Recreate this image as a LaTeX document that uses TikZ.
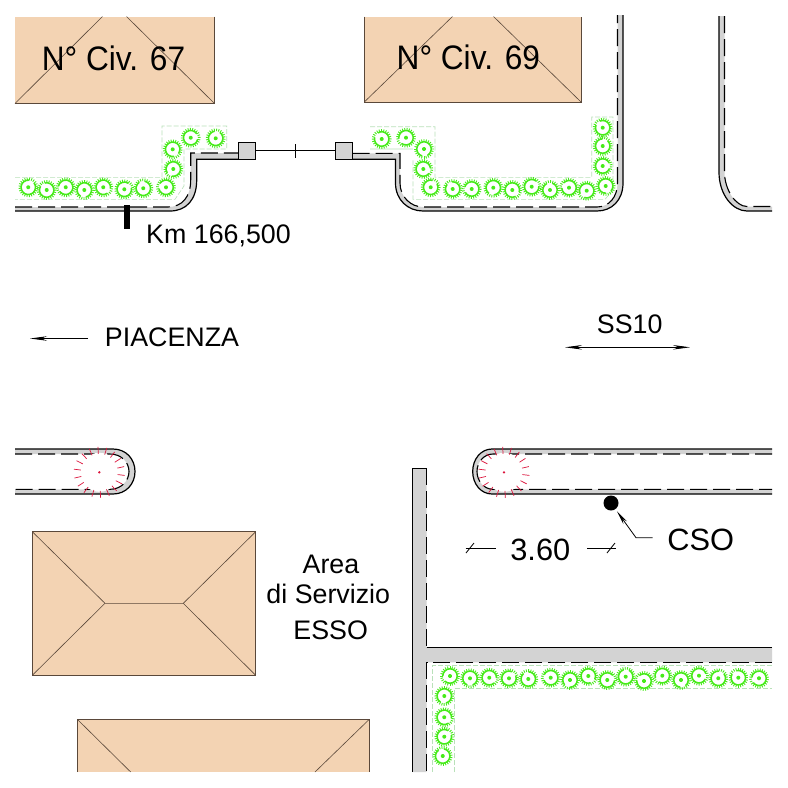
\documentclass[tikz,border=0pt]{standalone}
\usepackage{fontspec}
\setmainfont{Liberation Sans}
\usetikzlibrary{arrows.meta}
\definecolor{roofc}{RGB}{243,211,179}
\definecolor{roofl}{RGB}{90,72,58}
\definecolor{kerbc}{RGB}{211,211,211}
\definecolor{shrubc}{RGB}{70,235,25}
\definecolor{hedgec}{RGB}{185,225,185}
\definecolor{redc}{RGB}{220,20,60}
\tikzset{
  roof/.style={fill=roofc,draw=roofl,line width=0.9pt},
  roofedge/.style={draw=roofl,line width=0.9pt},
  ridge/.style={draw=roofl,line width=0.6pt},
  kerbfill/.style={fill=kerbc,draw=none},
  solidline/.style={draw=black,line width=1.2pt},
  dashline/.style={draw=black,line width=1.1pt,dash pattern=on 17pt off 6pt},
  hedge/.style={draw=hedgec,line width=0.6pt,dash pattern=on 5pt off 2pt},
  shrubline/.style={draw=shrubc,line width=1.5pt},
  shrubspike/.style={draw=shrubc,line width=0.9pt},
  redtick/.style={draw=redc,line width=0.7pt},
  gatebox/.style={draw=black,fill=kerbc,line width=0.9pt,minimum width=17.5pt,minimum height=17pt,inner sep=0pt},
  thinline/.style={draw=black,line width=0.8pt},
  leadtip/.style={-{Stealth[length=14pt,width=4.5pt]}},
  lab/.style={anchor=base,inner sep=0pt,text=black,font=\fontsize{26.8}{26.8}\selectfont},
  labbig/.style={anchor=base,inner sep=0pt,text=black,font=\fontsize{30.8}{30.8}\selectfont},
  labciv/.style={anchor=base,inner sep=0pt,text=black,xscale=0.93,transform shape,font=\fontsize{34}{34}\selectfont},
}
\begin{document}
\begin{tikzpicture}[x=1pt,y=-1pt]
\useasboundingbox (0,0) rectangle (788,788);
\fill[white] (0,0) rectangle (788,788);

% buildings
\fill[roofc] (15,16.5) rectangle (214.5,103.5);
\draw[roofedge] (214.5,16.5) -- (214.5,103.5) -- (15,103.5);
\draw[ridge] (15,103.5) -- (102.5,16.5) (214.5,103.5) -- (126.5,16.5);
\fill[roofc] (364.3,16.5) rectangle (581,102);
\draw[roofedge] (364.3,16.5) -- (364.3,102) -- (581,102) -- (581,16.5);
\draw[ridge] (364.3,102) -- (452.5,16.5) (581,102) -- (493.5,16.5);
\draw[roof] (32.3,531.7) rectangle (255.7,675.3);
\draw[ridge] (32.3,531.7) -- (105,603.3) -- (32.3,675.3) (105,603.3) -- (183.3,603.3) (255.7,531.7) -- (183.3,603.3) -- (255.7,675.3);
\fill[roofc] (77.3,719.3) rectangle (369.3,772);
\draw[roofedge] (77.3,772) -- (77.3,719.3) -- (369.3,719.3) -- (369.3,772);
\draw[ridge] (77.3,719.3) -- (130.7,772) (369.3,719.3) -- (315,772);

% hedges
\draw[hedge] (15,177.3) -- (162,177.3) -- (162,126) -- (226.7,126) -- (226.7,149) -- (184,149) -- (184,186) -- (175,199.3) -- (15,199.3);
\draw[hedge] (370,126.7) -- (435,126.7) -- (435,177.3) -- (591.7,177.3) -- (591.7,117) -- (613,117) -- (613,190) -- (605,199.3) -- (413,199.3) -- (413,160) (413,149) -- (370,149) -- cycle;
\draw[hedge] (772,665.7) -- (432.3,665.7) -- (432.3,772) (454.3,772) -- (454.3,688.3) -- (772,688.3);

% kerb top left
\fill[kerbfill] (15,211) -- (170,211) .. controls (186,211) and (196.7,200) .. (196.7,180) -- (196.7,159.3) -- (238,159.3) -- (238,153) -- (190.7,153) -- (190.7,180) .. controls (190.7,197) and (182,207) .. (168,207) -- (15,207) -- cycle;
\draw[solidline] (15,211) -- (170,211) .. controls (186,211) and (196.7,200) .. (196.7,180) -- (196.7,159.3) -- (238,159.3);
\draw[dashline] (15,207) -- (168,207) .. controls (182,207) and (190.7,197) .. (190.7,180) -- (190.7,153) -- (238,153);

% kerb top middle
\fill[kerbfill] (352.6,159.3) -- (395.5,159.3) -- (395.5,183) .. controls (395.5,200) and (408,211) .. (423,211) -- (597,211) .. controls (612,211) and (623,200) .. (623,183) -- (623,15) -- (617.5,15) -- (617.5,183) .. controls (617.5,197) and (609,207) .. (597,207) -- (423,207) .. controls (411,207) and (400,197) .. (400,183) -- (400,153.3) -- (352.6,153.3) -- cycle;
\draw[solidline] (352.6,159.3) -- (395.5,159.3) -- (395.5,183) .. controls (395.5,200) and (408,211) .. (423,211) -- (597,211) .. controls (612,211) and (623,200) .. (623,183) -- (623,15);
\draw[dashline] (352.6,153.3) -- (400,153.3) -- (400,183) .. controls (400,197) and (411,207) .. (423,207) -- (597,207) .. controls (609,207) and (617.5,197) .. (617.5,183) -- (617.5,15);

% kerb top right
\fill[kerbfill] (719,16) -- (719,172) .. controls (719,195) and (733,211) .. (747,211) -- (772,211) -- (772,206.5) -- (747,206.5) .. controls (736,206.5) and (724.5,190) .. (724.5,172) -- (724.5,16) -- cycle;
\draw[solidline] (719,16) -- (719,172) .. controls (719,195) and (733,211) .. (747,211) -- (772,211);
\draw[dashline] (724.5,16) -- (724.5,172) .. controls (724.5,190) and (736,206.5) .. (747,206.5) -- (772,206.5);

% left island
\fill[kerbfill] (15,449) -- (113,449) .. controls (126,449) and (135,459) .. (135,471.5) .. controls (135,484) and (126,494) .. (113,494) -- (15,494) -- (15,489.3) -- (110,489.3) .. controls (121,489.3) and (129,481) .. (129,471.5) .. controls (129,462) and (121,454) .. (110,454) -- (15,454) -- cycle;
\draw[solidline] (15,449) -- (113,449) .. controls (126,449) and (135,459) .. (135,471.5) .. controls (135,484) and (126,494) .. (113,494) -- (15,494);
\draw[dashline] (15,454) -- (110,454) .. controls (121,454) and (129,462) .. (129,471.5) .. controls (129,481) and (121,489.3) .. (110,489.3) -- (15,489.3);

% right island
\fill[kerbfill] (772,449) -- (492,449) .. controls (481,449) and (472.7,459) .. (472.7,471.5) .. controls (472.7,484) and (481,494) .. (492,494) -- (772,494) -- (772,489.3) -- (493,489.3) .. controls (484,489.3) and (477,481) .. (477,471.5) .. controls (477,462) and (484,454) .. (493,454) -- (772,454) -- cycle;
\draw[solidline] (772,449) -- (492,449) .. controls (481,449) and (472.7,459) .. (472.7,471.5) .. controls (472.7,484) and (481,494) .. (492,494) -- (772,494);
\draw[dashline] (772,454) -- (493,454) .. controls (484,454) and (477,462) .. (477,471.5) .. controls (477,481) and (484,489.3) .. (493,489.3) -- (772,489.3);

% red marks
\foreach \cx/\cy in {99.3/472.3,504/472.3}{
  \fill[white] (\cx,\cy) circle (19.5pt);
  \fill[redc] (\cx,\cy) circle (1.3pt);
  \foreach \a in {0,20,...,340}{
    \draw[redtick] (\cx,\cy) ++(\a+7:18.5) -- ++(\a+7:7);
  }
}

% service-area kerb
\fill[kerbfill] (412.5,468) -- (426.5,468) -- (426.5,647.3) -- (772,647.3) -- (772,662.3) -- (426.5,662.3) -- (426.5,772) -- (412.5,772) -- cycle;
\draw[thinline] (426.5,468) -- (412.5,468);
\draw[solidline] (412.5,468) -- (412.5,772);
\draw[solidline] (426.5,647.3) -- (772,647.3);
\draw[dashline] (426.5,468) -- (426.5,647.3);
\draw[dashline] (772,662.3) -- (426.5,662.3) -- (426.5,772);

% shrubs
\foreach \x/\y [count=\i] in {28.3/187.3,46.7/190,65.7/187.3,84.3/190,103.3/187.3,124.3/189.3,143.3/188.3,166/187.3,173.3/169,172.7/149.3,190.7/137.7,215.7/138.3,
  381.7/139,406/137.7,424/149,423.3/169,430.7/187.3,452.7/189,471.7/189,493.3/187.7,512.3/190,531.7/186.7,550/190,569/187.7,586.7/190.7,605.7/186,602.7/166,602.7/146,602.7/127.7,
  450/676,470/678.3,489.3/677.7,509/678.3,528.3/679,550.7/677.7,570/680,588.3/676,607.3/680,625.7/676.7,644/681,662.3/675.7,681/680,699/675.7,718.3/678.3,738.3/677.7,759/678.3,
  444.3/696,444.3/717.3,444.3/736.7,442.7/756}{
  \begin{scope}[shift={(\x,\y)},rotate=\i*67]
    \draw[shrubline] (0,0) ++(30:7.2) arc[start angle=30,end angle=345,radius=7.2];
    \fill[shrubc] (0,0) circle (2pt);
    \foreach \a in {0,15,...,345}{\draw[shrubspike] (\a:7.2) -- (\a:9.8);}
  \end{scope}
}

% gate
\node[gatebox] (gateL) at (247,150.5) {};
\node[gatebox] (gateR) at (343.8,150.5) {};
\draw[thinline] (gateL) -- (gateR);
\coordinate (gateT) at (295.7,144);
\coordinate (gateB) at (295.7,158);
\draw[thinline] (gateT) -- (gateB);

% km marker
\fill[black] (124,205) rectangle (130,228.5);

% texts
\node[labciv] (civA) at (113.5,70) {N° Civ. 67};
\node[labciv] (civB) at (468.3,69.5) {N° Civ. 69};
\node[lab] (km) at (218.5,243) {Km 166,500};
\node[lab] (pia) at (172,346.7) {PIACENZA};
\node[lab] (ss) at (629.7,333) {SS10};
\node[lab] (areaA) at (331,573) {Area};
\node[lab] (areaB) at (328.3,603.3) {di Servizio};
\node[lab] (areaC) at (330.7,639) {ESSO};
\node[labbig] (cso) at (700.7,550) {CSO};
\node[labbig] (dimt) at (540.3,560) {3.60};

% direction arrows
\coordinate (piaE) at (88,338.5);
\coordinate (piaW) at (30,338.5);
\draw[thinline,-{Stealth[length=17pt,width=4.5pt]}] (piaE) -- (piaW);
\coordinate (ssW) at (565,347.3);
\coordinate (ssE) at (690,347.3);
\draw[thinline,{Stealth[length=17pt,width=4.5pt]}-{Stealth[length=17pt,width=4.5pt]}] (ssW) -- (ssE);

% CSO
\node[circle,fill=black,minimum size=15pt,inner sep=0pt] (dot) at (611,503) {};
\coordinate (knee) at (636,537.7);
\coordinate (leadE) at (652.7,537.7);
\draw[thinline,leadtip,shorten >=2.5pt] (leadE) -- (knee) -- (dot);

% dimension
\coordinate (dimL) at (465.5,548);
\coordinate (dimLe) at (495.7,548);
\coordinate (dimR) at (616,548);
\coordinate (dimRe) at (587,548);
\draw[thinline] (dimL) -- (dimLe);
\draw[thinline] (dimRe) -- (dimR);
\draw[thinline] (466,553) -- (474,543);
\draw[thinline] (607,553) -- (615,543);
\end{tikzpicture}
\end{document}
